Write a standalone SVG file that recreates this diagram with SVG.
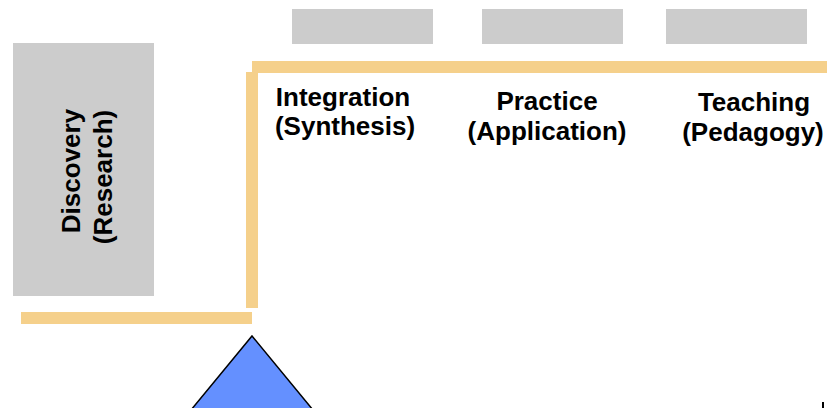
<svg xmlns="http://www.w3.org/2000/svg" width="830" height="408" viewBox="0 0 830 408">
<style>
.box{fill:#cccccc}
.bar{fill:#f5d08b}
.t{font-family:"Liberation Sans",Arial,sans-serif;font-weight:bold;font-size:26px;fill:#000;text-anchor:middle}
</style>
<rect width="830" height="408" fill="#fff"/>
<g id="connectors">
<rect class="bar" x="252" y="61" width="575" height="12"/>
<rect class="bar" x="246" y="72" width="12" height="236"/>
<rect class="bar" x="21" y="312" width="231" height="12"/>
</g>
<g id="discovery">
<rect class="box" x="13" y="43" width="141" height="253"/>
<text class="t" transform="translate(80,171) rotate(-90)">Discovery</text>
<text class="t" transform="translate(112,177) rotate(-90)">(Research)</text>
</g>
<g id="integration">
<rect class="box" x="292" y="9" width="141" height="35"/>
<text class="t" x="343" y="106">Integration</text>
<text class="t" x="345" y="135">(Synthesis)</text>
</g>
<g id="practice">
<rect class="box" x="482" y="9" width="141" height="35"/>
<text class="t" x="547" y="110">Practice</text>
<text class="t" x="547" y="140">(Application)</text>
</g>
<g id="teaching">
<rect class="box" x="666" y="9" width="141" height="35"/>
<text class="t" x="754" y="111">Teaching</text>
<text class="t" x="753" y="141">(Pedagogy)</text>
</g>
<g id="fulcrum">
<polygon points="252,336 313,410 191,410" fill="#6490ff" stroke="#000" stroke-width="1.5"/>
</g>
<rect x="822" y="402" width="2" height="6" fill="#000"/>
</svg>
